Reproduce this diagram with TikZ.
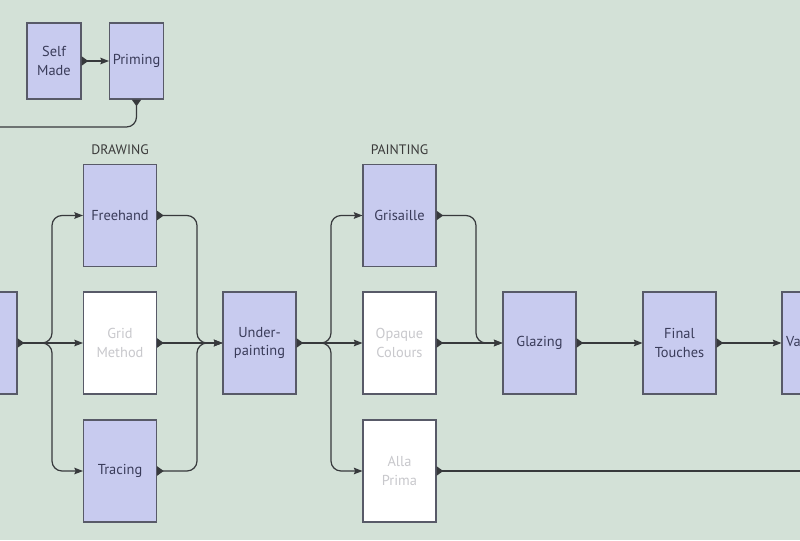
\documentclass[tikz,border=0pt]{standalone}
\usepackage{fontspec}
\setmainfont{PT Sans}
\usetikzlibrary{arrows.meta}
\definecolor{bgcol}{RGB}{211,225,215}
\definecolor{boxfill}{RGB}{200,203,239}
\definecolor{boxline}{RGB}{88,90,104}
\definecolor{boxtext}{RGB}{58,60,90}
\definecolor{ghosttext}{RGB}{200,200,204}
\definecolor{linecol}{RGB}{55,57,60}
\definecolor{labcol}{RGB}{58,58,58}
\tikzset{
  stepbox/.style={draw=boxline, line width=0.8pt, fill=boxfill, text=boxtext,
    minimum width=54.75pt, minimum height=76.5pt, inner sep=1pt,
    align=center, font=\fontsize{10.8}{14}\selectfont},
  ghostbox/.style={stepbox, fill=white, text=ghosttext},
  smallbox/.style={stepbox, minimum width=40.5pt, minimum height=57pt},
  grouplabel/.style={text=labcol, font=\fontsize{10.3}{12}\selectfont, inner sep=0pt},
  conn/.style={draw=linecol, line width=0.9pt, rounded corners=7.5pt},
  tail/.style={{Triangle[reversed,length=5pt,width=7pt]}-},
  head/.style={-{Stealth[length=6.5pt,width=5pt,inset=1pt]}},
  both/.style={{Triangle[reversed,length=5pt,width=7pt]}-{Stealth[length=6.5pt,width=5pt,inset=1pt]}}
}
\begin{document}
\begin{tikzpicture}[x=0.75pt,y=-0.75pt]
\useasboundingbox (0,0) rectangle (800,540);
\clip (0,0) rectangle (800,540);
\fill[bgcol] (0,0) rectangle (800,540);

% nodes
\node[smallbox] (selfmade) at (54,61) {Self\\Made};
\node[smallbox] (priming) at (136.5,61) {Priming};
\node[stepbox] (prev) at (-19.5,343) {};
\node[stepbox] (freehand) at (120,215.5) {Freehand};
\node[ghostbox] (grid) at (120,343) {Grid\\Method};
\node[stepbox] (tracing) at (120,471) {Tracing};
\node[stepbox] (under) at (259.5,343) {Under-\\painting};
\node[stepbox] (grisaille) at (399.5,215.5) {Grisaille};
\node[ghostbox] (opaque) at (399.5,343) {Opaque\\Colours};
\node[ghostbox] (alla) at (399.5,471) {Alla\\Prima};
\node[stepbox] (glazing) at (539.5,343) {Glazing};
\node[stepbox] (final) at (679.5,343) {Final\\Touches};
\node[stepbox] (varnish) at (818.5,343) {Varnishing};

\node[grouplabel] (drawing) at (120,150) {DRAWING};
\node[grouplabel] (painting) at (399.5,150) {PAINTING};

% helper coordinates
\coordinate (f1) at (42,343);
\coordinate (m1) at (197,343);
\coordinate (f2) at (320,343);
\coordinate (m2) at (476,343);
\coordinate (exitA) at (-20,127);
\coordinate (exitB) at (830,471);

% top
\draw[conn,both] (selfmade.east) -- (priming.west);
\draw[conn,tail] (priming.south) |- (exitA);

% drawing stage
\draw[conn,both] (prev.east) -- (grid.west);
\draw[conn,head] (f1) -- ++(10,0) |- (freehand.west);
\draw[conn,head] (f1) -- ++(10,0) |- (tracing.west);
\draw[conn,both] (grid.east) -- (under.west);
\draw[conn,both] (freehand.east) -| (m1) -- (under.west);
\draw[conn,both] (tracing.east) -| (m1) -- (under.west);

% painting stage
\draw[conn,both] (under.east) -- (opaque.west);
\draw[conn,head] (f2) -- ++(11,0) |- (grisaille.west);
\draw[conn,head] (f2) -- ++(11,0) |- (alla.west);
\draw[conn,both] (opaque.east) -- (glazing.west);
\draw[conn,both] (grisaille.east) -| (m2) -- (glazing.west);
\draw[conn,tail] (alla.east) -- (exitB);

% finishing
\draw[conn,both] (glazing.east) -- (final.west);
\draw[conn,both] (final.east) -- (varnish.west);
\end{tikzpicture}
\end{document}
